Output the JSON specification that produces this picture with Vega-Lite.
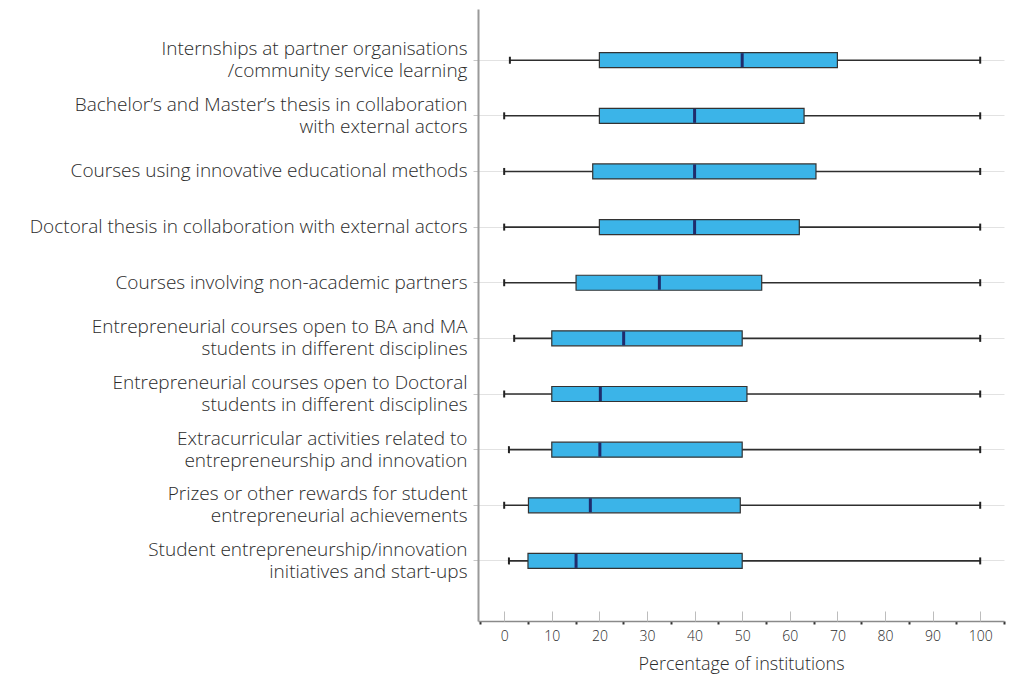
{
  "$schema": "https://vega.github.io/schema/vega-lite/v6.json",
  "autosize": "none",
  "padding": {"left": 478, "top": 9, "right": 7, "bottom": 60},
  "width": 526,
  "height": 612,
  "background": "white",
  "config": {
    "view": {"stroke": null},
    "font": "Open Sans",
    "axis": {"labelFont": "Open Sans", "titleFont": "Open Sans", "labelColor": "#2b2b2b", "titleColor": "#2b2b2b"}
  },
  "data": {
    "values": [
      {"activity": "Internships at partner organisations|/community service learning", "min": 1.2, "q1": 20, "median": 50, "q3": 70, "max": 100},
      {"activity": "Bachelor’s and Master’s thesis in collaboration|with external actors", "min": 0, "q1": 20, "median": 40, "q3": 63, "max": 100},
      {"activity": "Courses using innovative educational methods", "min": 0, "q1": 18.6, "median": 40, "q3": 65.5, "max": 100},
      {"activity": "Doctoral thesis in collaboration with external actors", "min": 0, "q1": 20, "median": 40, "q3": 62, "max": 100},
      {"activity": "Courses involving non-academic partners", "min": 0, "q1": 15.1, "median": 32.6, "q3": 54.1, "max": 100},
      {"activity": "Entrepreneurial courses open to BA and MA|students in different disciplines", "min": 2.1, "q1": 10, "median": 25.1, "q3": 50, "max": 100},
      {"activity": "Entrepreneurial courses open to Doctoral|students in different disciplines", "min": 0, "q1": 10, "median": 20.2, "q3": 51, "max": 100},
      {"activity": "Extracurricular activities related to|entrepreneurship and innovation", "min": 1, "q1": 10, "median": 20.1, "q3": 50, "max": 100},
      {"activity": "Prizes or other rewards for student|entrepreneurial achievements", "min": 0, "q1": 5.1, "median": 18.1, "q3": 49.6, "max": 100},
      {"activity": "Student entrepreneurship/innovation|initiatives and start-ups", "min": 1, "q1": 5, "median": 15.1, "q3": 50, "max": 100}
    ]
  },
  "encoding": {
    "y": {
      "field": "activity",
      "type": "nominal",
      "sort": null,
      "title": null,
      "scale": {"paddingInner": 0, "paddingOuter": 0.5, "align": 0.42},
      "axis": {
        "labelExpr": "split(datum.label, '|')",
        "labelFontSize": 19,
        "labelFontWeight": 300,
        "labelLineHeight": 22,
        "labelOffset": {"condition": {"test": "indexof(datum.value, '|') >= 0", "value": -11}, "value": 0},
        "labelPadding": 6,
        "labelLimit": 475,
        "domainColor": "#9a9a9a",
        "domainWidth": 2,
        "tickColor": "#c8c8c8",
        "tickSize": 5,
        "grid": true,
        "gridColor": "#e2e2e2",
        "gridWidth": 1
      }
    }
  },
  "resolve": {"axis": {"x": "independent"}},
  "layer": [
    {
      "mark": {"type": "rule", "color": "#2e2e2e", "strokeWidth": 1.6},
      "encoding": {
        "x": {
          "field": "min",
          "type": "quantitative",
          "scale": {"domain": [-5.5, 105], "nice": false, "zero": false},
          "title": "Percentage of institutions",
          "axis": {
            "orient": "bottom",
            "values": [-5, 0, 5, 10, 15, 20, 25, 30, 35, 40, 45, 50, 55, 60, 65, 70, 75, 80, 85, 90, 95, 100, 105],
            "labelExpr": "datum.value % 10 === 0 ? datum.label : ''",
            "labelOverlap": false,
            "labelFontSize": 14,
            "labelFontWeight": 300,
            "labelPadding": 5,
            "labelFlush": false,
            "grid": false,
            "domainColor": "#8a8a8a",
            "domainWidth": 1.5,
            "tickColor": {"condition": {"test": "datum.value % 10 === 0", "value": "rgba(0,0,0,0)"}, "value": "#333333"},
            "tickSize": 3,
            "tickWidth": 2,
            "titleFontSize": 18,
            "titleFontWeight": 300,
            "titlePadding": 12
          }
        },
        "x2": {"field": "max"}
      }
    },
    {
      "mark": {"type": "bar", "fill": "#3bb4e8", "stroke": "#333333", "strokeWidth": 1.2, "size": 15},
      "encoding": {
        "x": {
          "field": "q1",
          "type": "quantitative",
          "axis": {
            "orient": "top",
            "offset": -612,
            "values": [0, 10, 20, 30, 40, 50, 60, 70, 80, 90, 100],
            "domain": false,
            "labels": false,
            "title": null,
            "grid": false,
            "tickColor": "#bdbdbd",
            "tickSize": 10,
            "tickWidth": 1
          }
        },
        "x2": {"field": "q3"}
      }
    },
    {
      "mark": {"type": "tick", "color": "#1f2c6c", "thickness": 3, "size": 14, "opacity": 1},
      "encoding": {"x": {"field": "median", "type": "quantitative", "axis": null}}
    },
    {
      "mark": {"type": "tick", "color": "#222222", "thickness": 2, "size": 7, "opacity": 1},
      "encoding": {"x": {"field": "min", "type": "quantitative", "axis": null}}
    },
    {
      "mark": {"type": "tick", "color": "#222222", "thickness": 2, "size": 7, "opacity": 1},
      "encoding": {"x": {"field": "max", "type": "quantitative", "axis": null}}
    }
  ]
}
